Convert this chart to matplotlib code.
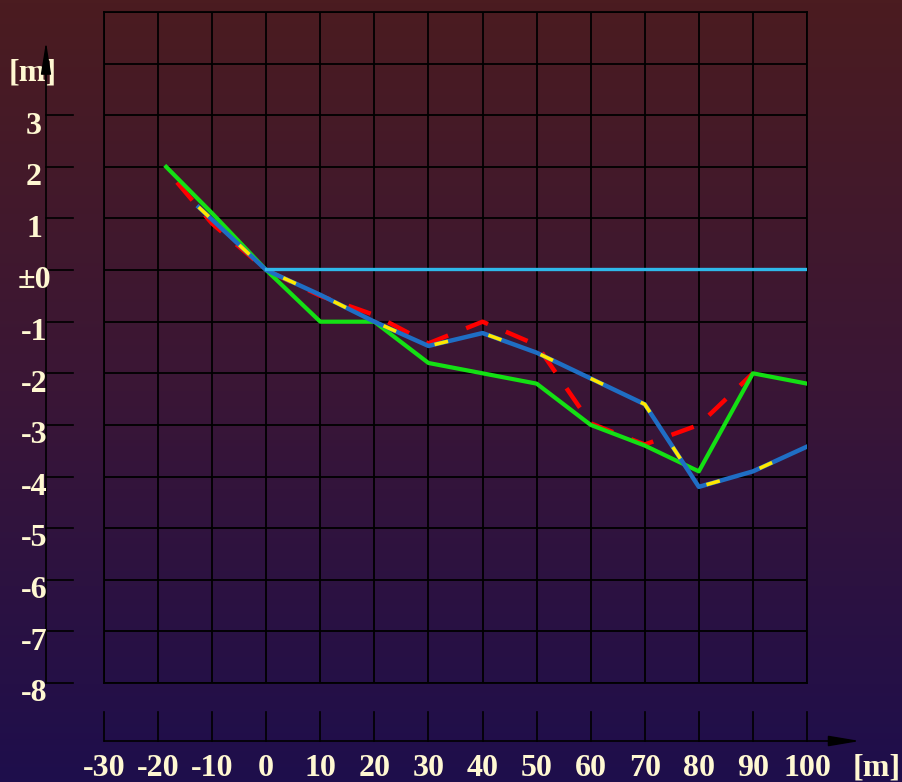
import numpy as np
import matplotlib
matplotlib.use("Agg")
import matplotlib.pyplot as plt
from matplotlib.colors import LinearSegmentedColormap

plt.rcParams['lines.scale_dashes'] = False

# profile data [m] (distance, height)
green_x = [-18.5, -10, 0, 10, 20, 30, 40, 50, 60, 70, 80, 90, 100]
green_y = [2.0, 1.1, 0.0, -1.0, -1.0, -1.8, -2.0, -2.2, -3.0, -3.4, -3.9, -2.0, -2.2]

red_x = [-16.5, -10, 0, 10, 20, 30, 40, 50, 60, 70, 80, 90]
red_y = [1.7, 0.9, 0.0, -0.5, -0.87, -1.42, -1.0, -1.45, -2.97, -3.38, -3.0, -2.0]

blue_x = [-12.5, 0, 10, 20, 30, 40, 50, 60, 70, 80, 90, 100]
blue_y = [1.22, 0.0, -0.48, -1.0, -1.47, -1.22, -1.6, -2.1, -2.6, -4.2, -3.9, -3.42]

cyan_x = [0, 100]
cyan_y = [0.03, 0.03]

x_ticks = list(range(-30, 101, 10))
y_ticks = list(range(-8, 4))
y_labels = ['±0' if v == 0 else str(v) for v in y_ticks]

txt = '#fff8d2'
font = dict(family='Liberation Serif', fontweight='bold', color=txt)

W, H = 903, 782
fig = plt.figure(figsize=(W / 100, H / 100), dpi=100)

# gradient background
bg = fig.add_axes([0, 0, 1, 1], zorder=-10)
cmap = LinearSegmentedColormap.from_list('bg', ['#4b1c20', '#3a1636', '#1e0e4c'])
bg.imshow(np.linspace(0, 1, 256).reshape(-1, 1), aspect='auto', cmap=cmap,
          extent=[0, 1, 0, 1])
bg.axis('off')

# main plotting area
left, right, top, bottom = 104, 807, 12, 683
ax = fig.add_axes([left / W, 1 - bottom / H, (right - left) / W, (bottom - top) / H])
ax.patch.set_alpha(0)
ax.set_xlim(-30, 100)
ax.set_ylim(-8, 5)
ax.set_xticks(x_ticks)
ax.set_yticks(range(-8, 6))
ax.grid(True, color='black', lw=1.3)
ax.tick_params(length=0, labelbottom=False, labelleft=False)
for s in ax.spines.values():
    s.set_color('black')
    s.set_linewidth(1.3)

ax.plot(red_x, red_y, color='#ff0000', lw=3.2, dashes=(17, 14),
        solid_capstyle='butt', zorder=3)
ax.plot(green_x, green_y, color='#14e014', lw=3.0, zorder=4)
ax.plot(blue_x, blue_y, color='#1f6ec4', lw=3.2, zorder=5)
ax.plot(blue_x, blue_y, color='#ffe800', lw=2.6, dashes=(10, 30), zorder=6)
ax.plot(cyan_x, cyan_y, color='#2fb8ea', lw=2.4, zorder=7)

# y axis with arrow and ticks
ya = ax.get_yaxis_transform()
px = lambda p: (p - left) / (right - left)
x_axis = px(46)
ax.plot([x_axis, x_axis], [-8, 4.0], color='black', lw=1.2, transform=ya, clip_on=False)
ax.annotate('', xy=(x_axis, 4.42), xytext=(x_axis, 3.7), xycoords=ya, textcoords=ya,
            arrowprops=dict(arrowstyle='-|>,head_length=2.0,head_width=0.32',
                            color='black', lw=1.0, shrinkA=0, shrinkB=0))
for v, lab in zip(y_ticks, y_labels):
    ax.plot([x_axis, px(73)], [v, v], color='black', lw=1.2, transform=ya, clip_on=False)
    ax.text(px(34), v - 0.21, lab, transform=ya, ha='center', va='center',
            fontsize=23, **font)
ax.text(px(33), 3.82, '[m]', transform=ya, ha='center',
        va='center', fontsize=23, zorder=1, **font)

# x axis strip below the grid
xa = ax.get_xaxis_transform()
py = lambda p: (bottom - p) / (bottom - top)
for v in x_ticks:
    ax.plot([v, v], [py(712), py(741)], color='black', lw=1.2, transform=xa, clip_on=False)
    ax.text(v, py(768), str(v), transform=xa, ha='center',
            va='center', fontsize=23, **font)
ax.annotate('', xy=(109.8, py(741)), xytext=(-30, py(741)), xycoords=xa, textcoords=xa,
            arrowprops=dict(arrowstyle='-|>,head_length=1.9,head_width=0.32',
                            color='black', lw=1.2, shrinkA=0, shrinkB=0))
ax.text(112.8, py(768), '[m]', transform=xa, ha='center',
        va='center', fontsize=23, **font)

fig.savefig('out.png', dpi=100)
